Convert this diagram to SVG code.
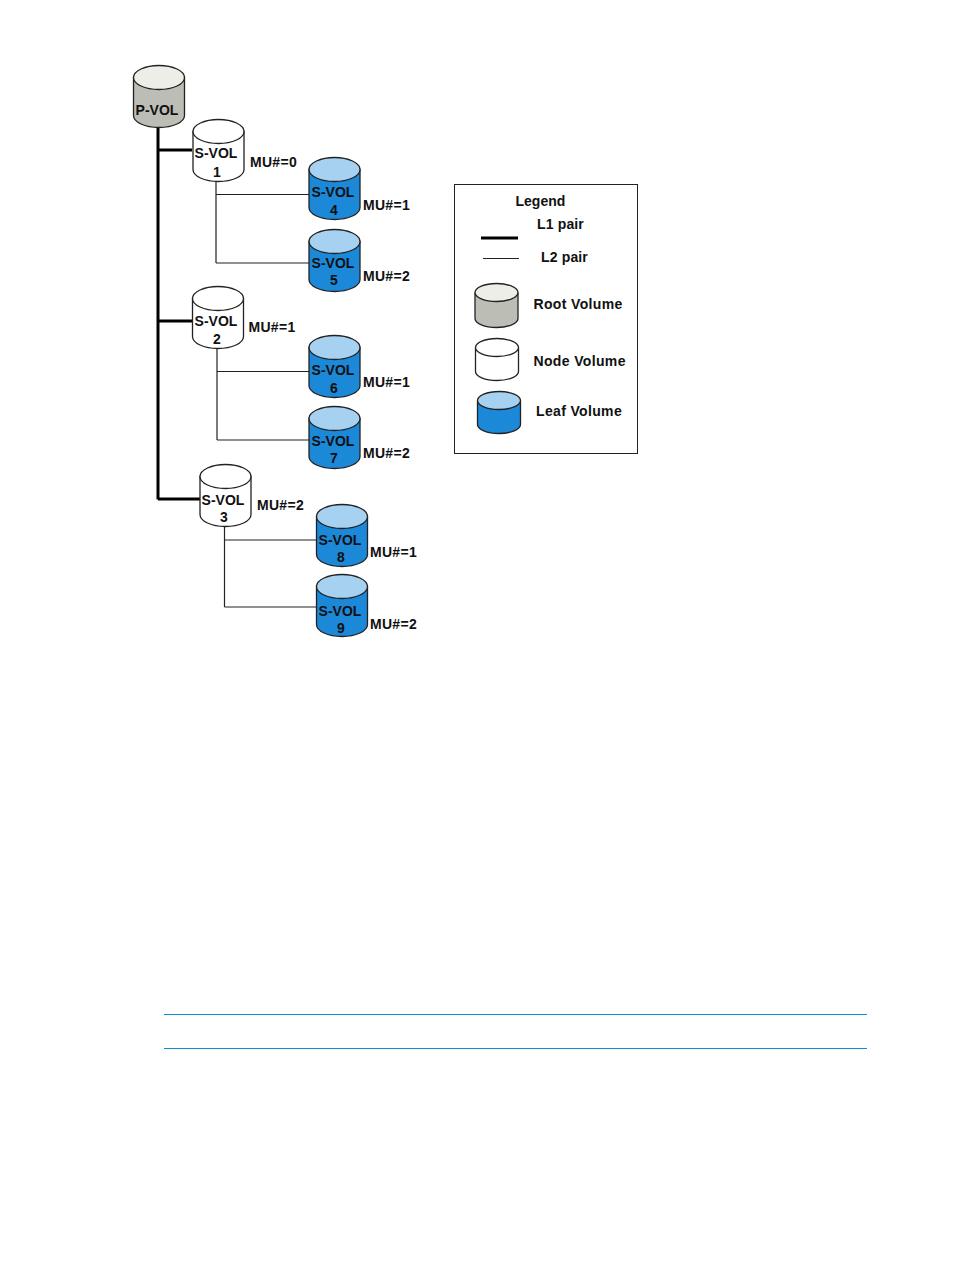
<svg xmlns="http://www.w3.org/2000/svg" width="954" height="1270" viewBox="0 0 954 1270">
<style>
text{font-family:"Liberation Sans",Arial,sans-serif;font-size:14px;font-weight:bold;fill:#111}
.m{text-anchor:middle}
.mu{letter-spacing:.3px}
.lg{letter-spacing:.35px}
.pr{letter-spacing:.15px}
.body{stroke:#222;stroke-width:1.3;fill:var(--b)}
.top{stroke:#222;stroke-width:1.3;fill:var(--t)}
.root{--b:#bcbdb4;--t:#eeeee9}
.node{--b:#fff;--t:#fff}
.leaf{--b:#1c88d8;--t:#a6d1f0}
.l1{stroke:#000;stroke-width:3;fill:none}
.l2{stroke:#222;stroke-width:1.2;fill:none}
.rule{stroke:#0096d6;stroke-width:1;fill:none}
</style>
<defs>
<g id="cyl">
<path class="body" d="M0.5 12.5V50.5A25.5 12 0 0 0 51.5 50.5V12.5Z"/>
<ellipse class="top" cx="26" cy="12.5" rx="25.5" ry="12"/>
</g>
<g id="lcyl">
<path class="body" d="M0.5 10.500V33.500A21.500 9 0 0 0 43.500 33.500V10.500Z"/>
<ellipse class="top" cx="22" cy="9.500" rx="21.500" ry="9"/>
</g>
<g id="rcyl">
<path class="body" d="M0.5 10.500V35.500A21.500 9 0 0 0 43.500 35.500V10.500Z"/>
<ellipse class="top" cx="22" cy="9.500" rx="21.500" ry="9"/>
</g>
</defs>
<g id="connectors">
<path class="l1" d="M158 128V499.5M158 150H192M158 321H192M158 499H200"/>
<path class="l2" d="M216 181V263M216 194.500H309M216 263H309"/>
<path class="l2" d="M217 349V440M217 371.500H309M217 440H309"/>
<path class="l2" d="M224.500 527V607M224.500 540H316M224.500 607H316"/>
</g>
<g id="pvol" class="root"><use href="#cyl" x="133" y="65"/><text class="m" x="157" y="115">P-VOL</text></g>
<g id="svol1" class="node"><use href="#cyl" x="192.500" y="119"/><text class="m" x="216" y="158">S-VOL</text><text class="m" x="217" y="177">1</text><text class="mu" x="250" y="167">MU#=0</text></g>
<g id="svol4" class="leaf"><use href="#cyl" x="308.500" y="157"/><text class="m" x="333" y="197">S-VOL</text><text class="m" x="334" y="215">4</text><text class="mu" x="363" y="210">MU#=1</text></g>
<g id="svol5" class="leaf"><use href="#cyl" x="308.500" y="229"/><text class="m" x="333" y="268">S-VOL</text><text class="m" x="334" y="285">5</text><text class="mu" x="363" y="281">MU#=2</text></g>
<g id="svol2" class="node"><use href="#cyl" x="192" y="286"/><text class="m" x="216" y="326">S-VOL</text><text class="m" x="217" y="344">2</text><text class="mu" x="248.500" y="332">MU#=1</text></g>
<g id="svol6" class="leaf"><use href="#cyl" x="308.500" y="335"/><text class="m" x="333" y="375">S-VOL</text><text class="m" x="334" y="393">6</text><text class="mu" x="363" y="387">MU#=1</text></g>
<g id="svol7" class="leaf"><use href="#cyl" x="308.500" y="406"/><text class="m" x="333" y="446">S-VOL</text><text class="m" x="334" y="463">7</text><text class="mu" x="363" y="458">MU#=2</text></g>
<g id="svol3" class="node"><use href="#cyl" x="199.500" y="464"/><text class="m" x="223" y="505">S-VOL</text><text class="m" x="224" y="522">3</text><text class="mu" x="257" y="510">MU#=2</text></g>
<g id="svol8" class="leaf"><use href="#cyl" x="316" y="504"/><text class="m" x="340" y="545">S-VOL</text><text class="m" x="341" y="562">8</text><text class="mu" x="370" y="557">MU#=1</text></g>
<g id="svol9" class="leaf"><use href="#cyl" x="316" y="574"/><text class="m" x="340" y="616">S-VOL</text><text class="m" x="341" y="633">9</text><text class="mu" x="370" y="629">MU#=2</text></g>
<g id="legend">
<rect x="454.500" y="184.500" width="183" height="269" fill="#fff" stroke="#222" stroke-width="1"/>
<text x="515.500" y="206">Legend</text>
<text class="pr" x="537" y="229">L1 pair</text>
<path class="l1" d="M481 238H518"/>
<text class="pr" x="541" y="262">L2 pair</text>
<path class="l2" d="M483 258.500H519"/>
<g id="legend-root" class="root"><use href="#rcyl" x="474.500" y="283"/></g><text class="lg" x="533.500" y="309">Root Volume</text>
<g id="legend-node" class="node"><use href="#lcyl" x="475" y="338"/></g><text class="lg" x="533.500" y="365.500">Node Volume</text>
<g id="legend-leaf" class="leaf"><use href="#lcyl" x="477" y="391"/></g><text class="lg" x="536" y="416">Leaf Volume</text>
</g>
<path class="rule" d="M164 1014.500H867M164 1048.500H867"/>
</svg>
